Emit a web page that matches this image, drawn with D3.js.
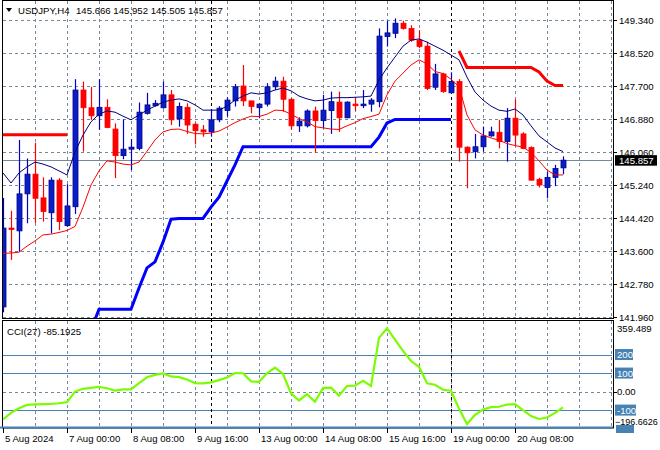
<!DOCTYPE html>
<html><head><meta charset="utf-8">
<script src="https://cdn.jsdelivr.net/npm/d3@7"></script>
<style>body{margin:0;background:#fff}svg{display:block;font-family:"Liberation Sans",Arial,sans-serif}</style>
</head><body><svg id="c" width="660" height="450"></svg>
<script>
// ---------- DATA ----------
const symbolLabel = "USDJPY,H4";
const headerValues = "145.666 145.952 145.505 145.857";
const openP  = [142.21,144.17,144.10,145.02,145.51,144.92,144.55,145.36,144.23,144.70,147.60,147.16,146.96,147.17,146.63,145.97,146.13,146.15,147.02,147.21,147.16,147.48,146.88,147.17,146.75,146.61,146.56,146.86,147.09,147.33,147.70,147.33,147.16,147.25,147.68,147.82,147.37,146.71,146.71,147.08,146.84,147.09,147.30,146.91,147.25,147.21,147.25,147.31,148.93,149.01,149.26,149.13,148.84,148.69,147.67,148.00,147.53,147.81,146.18,146.07,146.19,146.46,146.55,146.32,146.90,146.51,146.17,145.38,145.18,145.43,145.666];
const highP  = [144.92,144.60,146.36,145.90,146.29,145.43,145.43,145.41,145.26,147.87,147.81,147.68,147.87,147.37,146.77,146.87,146.38,147.29,147.53,147.35,147.81,147.60,147.29,147.27,146.79,146.73,147.12,147.20,147.42,147.75,148.22,147.33,147.27,147.77,147.93,147.93,147.40,146.92,147.12,147.19,147.48,147.56,147.56,147.32,147.42,147.60,147.40,149.13,149.32,149.38,149.32,149.21,149.09,148.80,148.25,148.03,148.04,147.87,146.20,146.51,146.69,146.69,146.86,147.15,147.37,146.55,146.20,145.42,145.57,145.74,145.952];
const lowP   = [142.08,143.38,143.58,144.29,144.30,144.33,144.04,144.12,144.20,144.52,146.07,146.86,146.61,146.65,145.41,145.88,145.61,146.10,146.99,147.19,147.14,146.73,146.69,146.51,146.25,146.44,146.44,146.80,146.94,147.19,147.20,147.02,146.90,147.19,147.60,147.06,146.61,146.56,146.67,146.04,146.65,146.51,146.56,146.90,147.08,147.15,147.06,147.17,148.68,148.89,149.10,148.80,148.64,147.60,147.60,147.53,147.52,145.82,145.16,145.90,146.07,146.44,146.15,145.82,146.21,146.13,145.35,145.18,144.91,145.21,145.505];
const closeP = [144.17,144.15,145.02,145.51,144.91,144.58,145.36,144.33,144.72,147.60,147.16,146.96,147.17,146.67,145.97,146.13,146.18,147.05,147.23,147.27,147.48,146.86,147.19,146.73,146.59,146.56,146.86,147.15,147.35,147.68,147.33,147.19,147.25,147.68,147.82,147.37,146.71,146.83,147.08,146.84,147.10,147.31,146.91,147.30,147.21,147.25,147.35,148.94,149.02,149.26,149.13,148.84,148.68,147.64,148.00,147.56,147.81,146.18,146.04,146.19,146.46,146.56,146.32,146.90,146.48,146.15,145.36,145.24,145.43,145.65,145.857];
// upper (navy) and lower (red) envelope lines
const upperLine = [145.54,145.29,145.54,145.69,145.81,145.76,145.69,145.59,145.49,146.06,146.48,146.81,147.00,147.08,147.05,146.95,146.86,146.98,147.10,147.20,147.30,147.35,147.38,147.33,147.23,147.10,147.10,147.10,147.20,147.35,147.45,147.53,147.50,147.53,147.60,147.65,147.58,147.45,147.38,147.33,147.35,147.40,147.41,147.41,147.42,147.43,147.45,147.85,148.15,148.42,148.69,148.84,148.87,148.79,148.69,148.59,148.47,148.35,147.92,147.55,147.35,147.20,147.10,147.07,147.13,146.98,146.71,146.46,146.31,146.16,146.07];
const lowerLine = [143.54,143.55,143.57,143.72,143.85,144.00,144.02,144.06,144.11,144.21,144.69,145.24,145.59,145.84,145.81,145.76,145.74,145.81,146.08,146.36,146.56,146.62,146.63,146.57,146.52,146.51,146.53,146.58,146.68,146.79,146.88,146.95,146.94,147.00,147.10,147.09,147.00,146.89,146.81,146.69,146.66,146.63,146.62,146.71,146.79,146.89,146.94,147.00,147.48,147.82,148.02,148.22,148.35,148.25,148.06,148.01,147.87,147.68,146.98,146.61,146.48,146.41,146.35,146.27,146.22,146.18,146.05,145.84,145.61,145.49,145.49];
// trailing stop lines (null = not drawn)
const stopUp = [null,null,null,null,null,null,null,null,null,null,null,141.64,142.15,142.15,142.15,142.15,142.15,142.68,143.18,143.33,143.82,144.39,144.41,144.41,144.41,144.41,144.69,144.94,145.34,145.74,146.19,146.19,146.19,146.19,146.19,146.19,146.19,146.19,146.19,146.19,146.19,146.19,146.19,146.19,146.19,146.19,146.19,146.43,146.78,146.87,146.87,146.87,146.87,146.87,146.87,146.87,146.87,null,null,null,null,null,null,null,null,null,null,null,null,null,null];
const stopDown = [146.49,146.49,146.49,146.49,146.49,146.49,146.49,146.49,146.49,null,null,null,null,null,null,null,null,null,null,null,null,null,null,null,null,null,null,null,null,null,null,null,null,null,null,null,null,null,null,null,null,null,null,null,null,null,null,null,null,null,null,null,null,null,null,null,null,148.57,148.16,148.16,148.16,148.16,148.16,148.16,148.16,148.16,148.16,148.05,147.82,147.71,147.71];
const cciValues = [-150,-115,-90,-72,-69,-68,-67,-63,-57,0,15,20,25,18,5,12,12,45,77,90,98,82,78,65,46,44,50,62,76,100,99,55,53,99,129,95,-10,-48,-14,-55,20,21,-22,30,32,58,30,290,342,280,220,165,134,45,37,10,5,-92,-175,-125,-97,-84,-82,-70,-68,-100,-132,-148,-140,-115,-85.19];
const cciLabel = "CCI(27) -85.1925";
const lastPrice = 145.857;
const priceTicks = [149.340,148.520,147.700,146.880,146.060,145.240,144.420,143.600,142.780,141.960];
const cciLevels = [200,100,-100];
const cciRange = [-196.6626, 359.489];
const timeTickIdx = [0,8,16,24,32,40,48,56,64];
const timeTickLabels = ["5 Aug 2024","7 Aug 00:00","8 Aug 08:00","9 Aug 16:00","13 Aug 00:00","14 Aug 08:00","15 Aug 16:00","19 Aug 00:00","20 Aug 08:00"];
const weekSeparators = [26,56];

// ---------- CHART ----------
const svg = d3.select("#c");
const x = d3.scaleLinear().domain([0,76.125]).range([3,612]);
const y = d3.scaleLinear().domain([141.96,149.34]).range([317,20]);
const yc = d3.scaleLinear().domain(cciRange).range([428,325]);
const gridCol = "#778899";
const L = 3, R = 612;

const defs = svg.append("defs");
defs.append("clipPath").attr("id","mainClip").append("rect").attr("x",3).attr("y",1).attr("width",609).attr("height",317);
defs.append("clipPath").attr("id","cciClip").append("rect").attr("x",3).attr("y",321).attr("width",609).attr("height",106);

const gridIdx = d3.range(4,77,4);

// main panel grid
const gm = svg.append("g");
gm.selectAll("line.h").data(priceTicks).join("line")
  .attr("x1",L).attr("x2",R).attr("y1",d=>Math.round(y(d))+0.5).attr("y2",d=>Math.round(y(d))+0.5)
  .attr("stroke",gridCol).attr("stroke-dasharray","3,3");
gm.selectAll("line.v").data(gridIdx).join("line")
  .attr("x1",d=>Math.round(x(d))+0.5).attr("x2",d=>Math.round(x(d))+0.5).attr("y1",1).attr("y2",318)
  .attr("stroke",gridCol).attr("stroke-dasharray","3,3");
// cci panel grid
const gc = svg.append("g");
gc.selectAll("line.v").data(gridIdx).join("line")
  .attr("x1",d=>Math.round(x(d))+0.5).attr("x2",d=>Math.round(x(d))+0.5).attr("y1",321).attr("y2",427)
  .attr("stroke",gridCol).attr("stroke-dasharray","3,3");
gc.append("line").attr("x1",L).attr("x2",R).attr("y1",Math.round(yc(0))+0.5).attr("y2",Math.round(yc(0))+0.5)
  .attr("stroke",gridCol).attr("stroke-dasharray","3,3");
gc.selectAll("line.lv").data(cciLevels).join("line")
  .attr("x1",L).attr("x2",R).attr("y1",d=>Math.round(yc(d))+0.5).attr("y2",d=>Math.round(yc(d))+0.5)
  .attr("stroke","#4682B4").attr("stroke-width",1.2);

// week separators
svg.selectAll("line.wk").data(weekSeparators).join("line")
  .attr("x1",d=>Math.round(x(d))+0.5).attr("x2",d=>Math.round(x(d))+0.5).attr("y1",1).attr("y2",427)
  .attr("stroke","#000").attr("stroke-dasharray","3,3");

// current price line
svg.append("line").attr("x1",L).attr("x2",R).attr("y1",Math.round(y(lastPrice))+0.5).attr("y2",Math.round(y(lastPrice))+0.5)
  .attr("stroke","#778899").attr("stroke-width",1.2);

const main = svg.append("g").attr("clip-path","url(#mainClip)");
const idx = d3.range(openP.length);

// stop lines
const stopLine = d3.line().defined(d=>d.v!==null).x(d=>x(d.i)).y(d=>y(d.v));
main.append("path").datum(stopUp.map((v,i)=>({i,v}))).attr("d",stopLine)
  .attr("fill","none").attr("stroke","#0000FF").attr("stroke-width",3);
main.append("path").datum(stopDown.map((v,i)=>({i,v}))).attr("d",stopLine)
  .attr("fill","none").attr("stroke","#FF0000").attr("stroke-width",3);

// candles
const cg = main.selectAll("g.c").data(idx).join("g");
cg.append("line").attr("x1",i=>Math.round(x(i))+0.5).attr("x2",i=>Math.round(x(i))+0.5)
  .attr("y1",i=>y(highP[i])).attr("y2",i=>y(lowP[i]))
  .attr("stroke",i=>closeP[i]>=openP[i]?"#0000CD":"#FF0000").attr("stroke-width",1.2);
cg.append("rect").attr("x",i=>Math.round(x(i))-2)
  .attr("y",i=>y(Math.max(openP[i],closeP[i])))
  .attr("width",5)
  .attr("height",i=>Math.max(1.5,Math.abs(y(openP[i])-y(closeP[i]))))
  .attr("fill",i=>closeP[i]>=openP[i]?"#0A1EC8":"#FF0000")
  .attr("stroke",i=>closeP[i]>=openP[i]?"#00008B":"#FF0000").attr("stroke-width",0.8);

// envelope lines
const pl = d3.line().x((d,i)=>x(i)).y(d=>y(d));
main.append("path").datum(upperLine).attr("d",pl).attr("fill","none").attr("stroke","#000080").attr("stroke-width",1);
main.append("path").datum(lowerLine).attr("d",pl).attr("fill","none").attr("stroke","#FF0000").attr("stroke-width",1);

// CCI line
const cl = d3.line().x((d,i)=>x(i)).y(d=>yc(d));
svg.append("g").attr("clip-path","url(#cciClip)").append("path").datum(cciValues).attr("d",cl)
  .attr("fill","none").attr("stroke","#7CFC00").attr("stroke-width",2.2);

// frames
svg.append("rect").attr("x",2.5).attr("y",0.5).attr("width",611).attr("height",318).attr("fill","none").attr("stroke","#000");
svg.append("rect").attr("x",2.5).attr("y",320.5).attr("width",611).attr("height",107.5).attr("fill","none").attr("stroke","#000");
svg.append("line").attr("x1",0).attr("x2",613).attr("y1",427.5).attr("y2",427.5).attr("stroke","#4682B4").attr("stroke-width",2);

// header
svg.append("path").attr("d","M6,8 L12,8 L9,12 Z").attr("fill","#000");
svg.append("text").attr("x",18).attr("y",14).attr("font-size",9.6).attr("fill","#000").text(symbolLabel);
svg.append("text").attr("x",76).attr("y",14).attr("font-size",9.6).attr("fill","#000").text(headerValues);
svg.append("text").attr("x",7).attr("y",335).attr("font-size",9.6).attr("fill","#000").text(cciLabel);

// price axis
const pa = svg.append("g");
pa.selectAll("line").data(priceTicks).join("line")
  .attr("x1",613).attr("x2",617).attr("y1",d=>Math.round(y(d))+0.5).attr("y2",d=>Math.round(y(d))+0.5).attr("stroke","#000");
pa.selectAll("text").data(priceTicks).join("text")
  .attr("x",619).attr("y",d=>y(d)+3.5).attr("font-size",9.6).attr("fill","#000").text(d=>d3.format(".3f")(d));
// last price box
svg.append("rect").attr("x",615).attr("y",y(lastPrice)-5).attr("width",42).attr("height",10.5).attr("fill","#000");
svg.append("text").attr("x",619).attr("y",y(lastPrice)+3.5).attr("font-size",9.6).attr("fill","#fff").text(d3.format(".3f")(lastPrice));

// cci axis
const ca = svg.append("g");
ca.append("rect").attr("x",616).attr("y",425).attr("width",18).attr("height",8).attr("fill","#4682B4");
ca.append("text").attr("x",617).attr("y",332).attr("font-size",9.6).attr("fill","#000").text(d3.format(".3f")(cciRange[1]));
ca.append("text").attr("x",615).attr("y",425).attr("font-size",9).attr("fill","#000").text(d3.format(".4f")(cciRange[0]));
ca.append("text").attr("x",617).attr("y",yc(0)+3.5).attr("font-size",9.6).attr("fill","#000").text("0.00");
ca.append("line").attr("x1",613).attr("x2",617).attr("y1",Math.round(yc(0))+0.5).attr("y2",Math.round(yc(0))+0.5).attr("stroke","#000");
const lvl = ca.selectAll("g.l").data(cciLevels).join("g");
lvl.append("rect").attr("x",615).attr("y",d=>yc(d)-5.5).attr("width",d=>d<0?21:18).attr("height",11).attr("fill","#4682B4");
lvl.append("text").attr("x",617).attr("y",d=>yc(d)+3.5).attr("font-size",9.6).attr("fill","#fff").text(d=>d);

// time axis
const ta = svg.append("g");
ta.selectAll("line").data(timeTickIdx).join("line")
  .attr("x1",d=>Math.round(x(d))+0.5).attr("x2",d=>Math.round(x(d))+0.5).attr("y1",428).attr("y2",433).attr("stroke","#000");
ta.selectAll("text").data(timeTickIdx).join("text")
  .attr("x",d=>Math.round(x(d))+2).attr("y",442).attr("font-size",9.6).attr("fill","#000")
  .text((d,i)=>timeTickLabels[i]);
</script></body></html>
